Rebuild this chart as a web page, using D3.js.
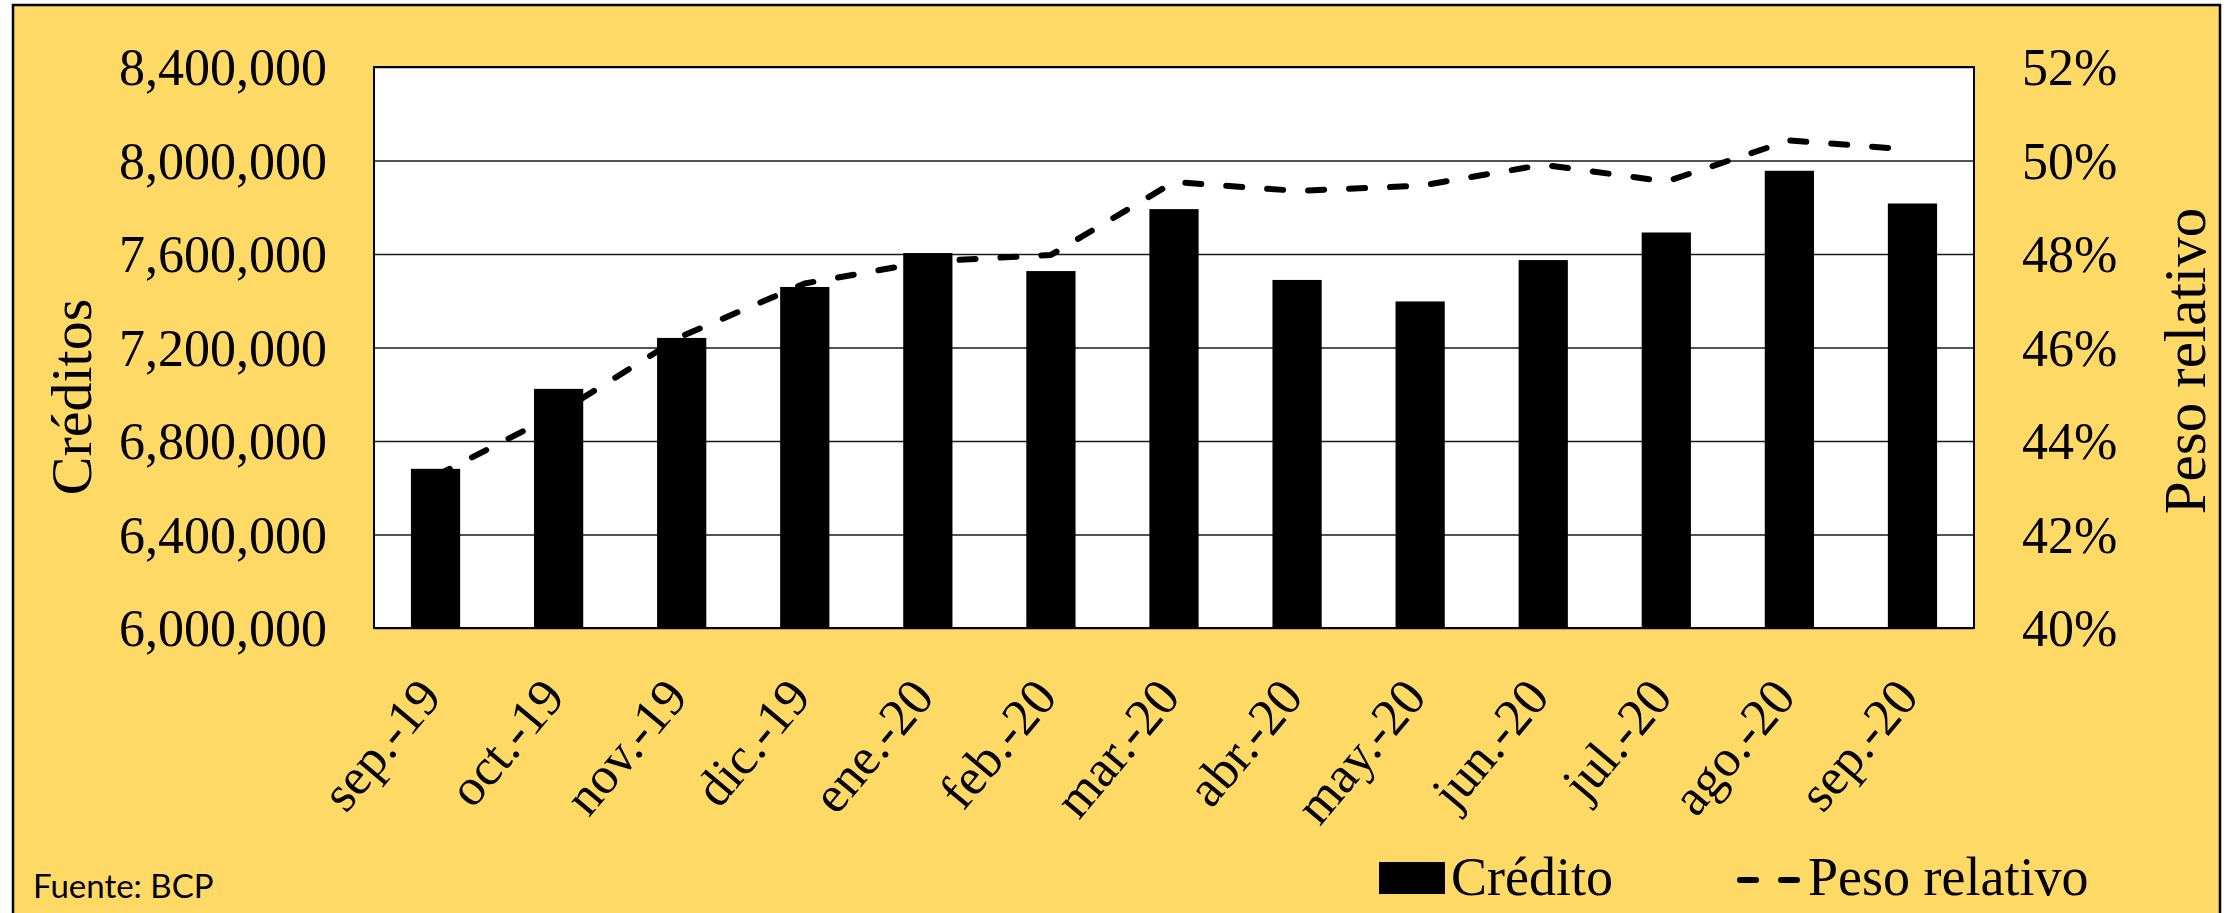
<!DOCTYPE html>
<html>
<head>
<meta charset="utf-8">
<script src="https://cdn.jsdelivr.net/npm/d3@7"></script>
<style>
  body { margin: 0; background: #fff; }
  svg { display: block; }
  .serif { font-family: "Liberation Serif", "Times New Roman", serif; fill: #000; }
</style>
</head>
<body>
<svg id="chart" width="2233" height="913"></svg>
<script>
// data
var months = ["sep.-19","oct.-19","nov.-19","dic.-19","ene.-20","feb.-20","mar.-20","abr.-20","may.-20","jun.-20","jul.-20","ago.-20","sep.-20"]
var credito = [6681000,7023000,7241000,7459000,7604000,7527000,7792000,7489000,7397000,7574000,7692000,7956000,7816000]
var pesoRelativo = [0.4325,0.4460,0.4624,0.4737,0.4784,0.4798,0.4954,0.4935,0.4946,0.4991,0.4955,0.5043,0.5023]
var leftTicks = [6000000,6400000,6800000,7200000,7600000,8000000,8400000]
var rightTicks = [0.40,0.42,0.44,0.46,0.48,0.50,0.52]

var svg = d3.select("#chart")
var plot = {left: 374, right: 1974, top: 67, bottom: 628}
var pw = plot.right - plot.left, ph = plot.bottom - plot.top

// yellow frame
svg.append("rect").attr("x",13).attr("y",5).attr("width",2207).attr("height",960)
  .attr("fill","#FFD966").attr("stroke","#000").attr("stroke-width",2.5)

var x = d3.scaleBand().domain(months).range([plot.left, plot.right]).paddingInner(0.6).paddingOuter(0.3)
var yL = d3.scaleLinear().domain([6000000, 8400000]).range([plot.bottom, plot.top])
var yR = d3.scaleLinear().domain([0.40, 0.52]).range([plot.bottom, plot.top])

svg.append("rect").attr("x",plot.left).attr("y",plot.top).attr("width",pw).attr("height",ph).attr("fill","#fff")

// gridlines
var grid = svg.append("g").attr("transform","translate(" + plot.left + ",0)")
  .call(d3.axisLeft(yL).tickValues(leftTicks).tickSize(-pw).tickFormat(""))
grid.select(".domain").remove()
grid.selectAll("line").attr("stroke","#1a1a1a").attr("stroke-width",1.6)

// bars
svg.append("g").selectAll("rect").data(credito).enter().append("rect")
  .attr("x",function(d,i){ return x(months[i]) })
  .attr("y",function(d){ return yL(d) })
  .attr("width",x.bandwidth())
  .attr("height",function(d){ return yL(6000000) - yL(d) })
  .attr("fill","#000")

// plot border
svg.append("rect").attr("x",plot.left).attr("y",plot.top).attr("width",pw).attr("height",ph)
  .attr("fill","none").attr("stroke","#000").attr("stroke-width",2)

// dashed line
var line = d3.line()
  .x(function(d,i){ return x(months[i]) + x.bandwidth()/2 })
  .y(function(d){ return yR(d) })
svg.append("path").datum(pesoRelativo).attr("d",line)
  .attr("fill","none").attr("stroke","#000").attr("stroke-width",6)
  .attr("stroke-dasharray","16,25").attr("stroke-linecap","round").attr("stroke-linejoin","round")

// left axis labels
var axL = svg.append("g").attr("transform","translate(" + (plot.left - 47) + ",0)")
  .call(d3.axisLeft(yL).tickValues(leftTicks).tickSize(0).tickPadding(0).tickFormat(d3.format(",")))
axL.select(".domain").remove()
axL.selectAll("text").attr("class","serif").style("font-size","52px").attr("dy","0.34em")

// right axis labels
var axR = svg.append("g").attr("transform","translate(" + (plot.right + 48) + ",0)")
  .call(d3.axisRight(yR).tickValues(rightTicks).tickSize(0).tickPadding(0).tickFormat(d3.format(".0%")))
axR.select(".domain").remove()
axR.selectAll("text").attr("class","serif").style("font-size","52px").attr("dy","0.34em")

// x labels
svg.append("g").selectAll("text").data(months).enter().append("text")
  .attr("class","serif").style("font-size","52px").attr("text-anchor","end")
  .attr("transform",function(d){ return "translate(" + (x(d) + x.bandwidth()/2 + 8) + ",698) rotate(-50)" })
  .text(function(d){ return d })

// axis titles
svg.append("text").attr("class","serif").style("font-size","58px").attr("text-anchor","middle")
  .attr("transform","translate(91,397) rotate(-90)").text("Créditos")
svg.append("text").attr("class","serif").style("font-size","59px").attr("text-anchor","middle")
  .attr("transform","translate(2205,361) rotate(-90)").text("Peso relativo")

// legend
svg.append("rect").attr("x",1379).attr("y",862).attr("width",66).attr("height",32).attr("fill","#000")
svg.append("text").attr("class","serif").style("font-size","54px").attr("x",1451).attr("y",895).text("Crédito")
svg.append("line").attr("x1",1740).attr("x2",1800).attr("y1",880).attr("y2",880)
  .attr("stroke","#000").attr("stroke-width",6).attr("stroke-dasharray","16,25").attr("stroke-linecap","round")
svg.append("text").attr("class","serif").style("font-size","54px").attr("x",1808).attr("y",895).text("Peso relativo")

// source note
svg.append("text").style("font-family","Lato, 'Open Sans', sans-serif").style("font-size","33px").attr("fill","#000")
  .attr("x",33).attr("y",898).text("Fuente: BCP")
</script>
</body>
</html>
